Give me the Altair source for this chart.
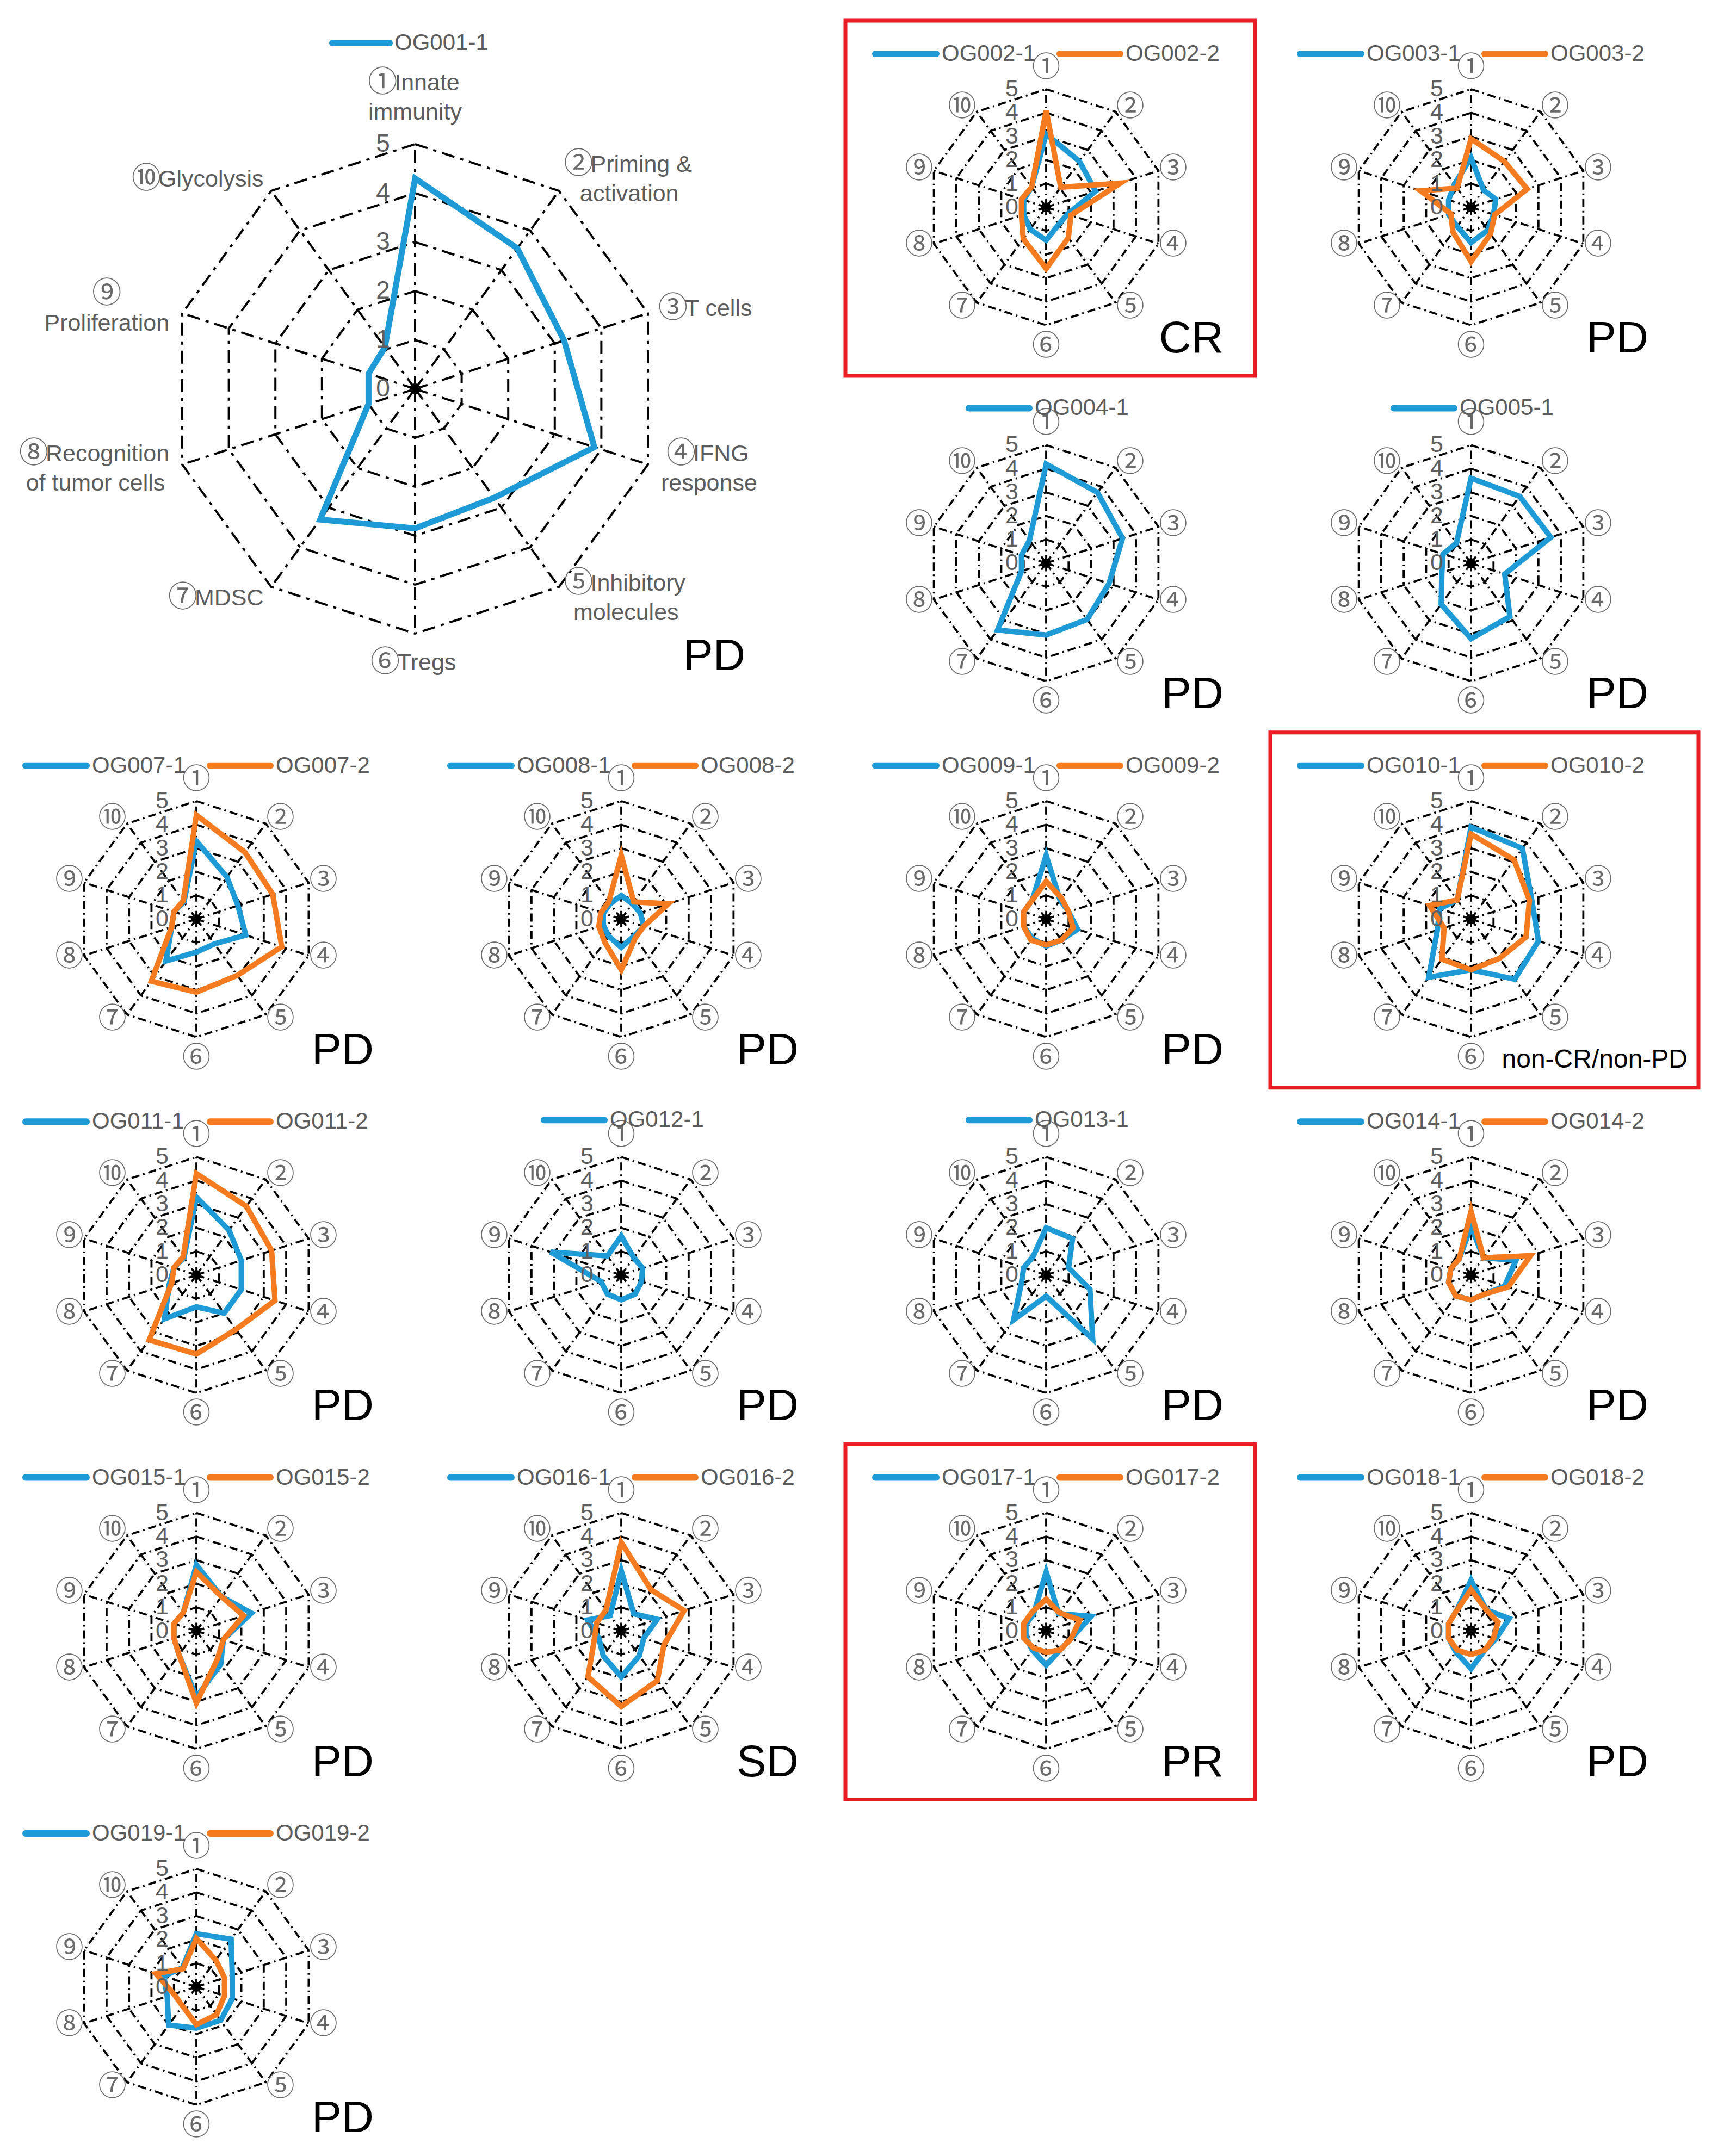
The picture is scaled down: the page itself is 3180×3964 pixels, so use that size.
import math
import altair as alt
import pandas as pd

# ---------------- data ----------------
AXIS_MARKS = ["①", "②", "③", "④", "⑤", "⑥", "⑦", "⑧", "⑨", "⑩"]
BIG_AXIS_LABELS = [
    ["Innate", "immunity"],
    ["Priming &", "activation"],
    ["T cells"],
    ["IFNG", "response"],
    ["Inhibitory", "molecules"],
    ["Tregs"],
    ["MDSC"],
    ["Recognition", "of tumor cells"],
    ["", "Proliferation"],
    ["Glycolysis"],
]
TICK_VALUES = [0, 1, 2, 3, 4, 5]

PATIENTS = ["OG001", "OG002", "OG003", "OG004", "OG005", "OG007", "OG008", "OG009",
            "OG010", "OG011", "OG012", "OG013", "OG014", "OG015", "OG016", "OG017",
            "OG018", "OG019"]
RESPONSE = ["PD", "CR", "PD", "PD", "PD", "PD", "PD", "PD", "non-CR/non-PD", "PD",
            "PD", "PD", "PD", "PD", "SD", "PR", "PD", "PD"]
HIGHLIGHT = ["OG002", "OG010", "OG017"]

OG001_1 = [4.3, 3.55, 3.2, 3.85, 2.75, 2.85, 3.3, 1.0, 1.0, 1.05]
OG002_1 = [3.1, 2.4, 2.2, 0.95, 0.9, 1.4, 1.15, 1.0, 1.0, 1.05]
OG002_2 = [4.1, 1.05, 3.3, 1.1, 1.6, 2.6, 1.65, 1.1, 1.1, 1.05]
OG003_1 = [2.1, 0.9, 1.1, 1.0, 1.2, 1.5, 1.0, 1.0, 1.0, 1.2]
OG003_2 = [2.9, 2.4, 2.5, 1.05, 1.4, 2.3, 1.3, 0.9, 2.25, 1.0]
OG004_1 = [4.2, 3.7, 3.4, 2.8, 2.95, 3.05, 3.5, 1.1, 1.1, 1.2]
OG005_1 = [3.6, 3.5, 3.55, 1.5, 2.8, 3.2, 2.15, 1.3, 1.25, 1.05]
OG007_1 = [3.3, 2.2, 1.85, 2.2, 1.3, 1.4, 2.2, 1.1, 1.0, 0.9]
OG007_2 = [4.4, 3.5, 3.4, 3.8, 2.95, 3.1, 3.25, 1.1, 1.0, 0.95]
OG008_1 = [1.0, 0.8, 0.85, 1.0, 0.9, 1.2, 0.9, 0.8, 0.8, 0.8]
OG008_2 = [2.7, 0.9, 2.1, 1.0, 1.0, 2.15, 1.2, 1.0, 0.9, 0.9]
OG009_1 = [2.7, 1.0, 1.0, 1.4, 1.1, 1.15, 1.0, 1.0, 1.0, 1.0]
OG009_2 = [1.6, 1.1, 1.0, 1.2, 1.1, 1.1, 1.1, 1.0, 1.0, 1.0]
OG010_1 = [3.9, 3.7, 2.7, 3.0, 3.15, 2.15, 3.05, 1.5, 1.4, 1.0]
OG010_2 = [3.6, 3.1, 2.6, 2.45, 2.05, 2.15, 2.1, 1.2, 1.85, 1.0]
OG011_1 = [3.3, 2.35, 2.0, 2.0, 2.0, 1.35, 2.3, 1.2, 1.0, 0.9]
OG011_2 = [4.3, 3.6, 3.35, 3.5, 2.85, 3.35, 3.4, 1.1, 1.0, 0.95]
OG012_1 = [1.65, 0.9, 0.95, 0.9, 1.0, 1.05, 1.0, 0.9, 3.15, 1.0]
OG013_1 = [2.0, 1.9, 1.0, 1.95, 3.35, 0.9, 2.35, 1.1, 1.0, 0.95]
OG014_1 = [2.05, 0.9, 2.0, 1.5, 1.0, 1.05, 1.1, 1.0, 0.9, 0.85]
OG014_2 = [2.7, 0.9, 2.65, 1.65, 1.0, 1.05, 1.1, 1.0, 0.9, 0.85]
OG015_1 = [2.8, 1.8, 2.45, 1.2, 1.75, 2.8, 1.25, 1.0, 1.0, 0.95]
OG015_2 = [2.5, 1.8, 2.1, 1.2, 1.5, 3.05, 1.25, 1.0, 1.0, 0.95]
OG016_1 = [2.55, 0.9, 1.6, 1.0, 1.3, 1.95, 1.3, 1.0, 1.5, 0.8]
OG016_2 = [3.75, 2.15, 2.8, 1.9, 2.6, 3.2, 2.4, 1.2, 1.1, 1.1]
OG017_1 = [2.5, 0.9, 2.0, 1.1, 1.0, 1.45, 1.0, 0.9, 0.9, 0.9]
OG017_2 = [1.35, 0.95, 1.5, 1.1, 1.0, 0.9, 0.9, 1.0, 1.0, 1.0]
OG018_1 = [2.15, 1.1, 1.7, 1.1, 1.0, 1.6, 1.1, 1.0, 1.0, 1.05]
OG018_2 = [1.75, 1.1, 1.2, 1.0, 1.0, 1.0, 1.0, 1.0, 1.0, 1.05]
OG019_1 = [2.25, 2.5, 1.6, 1.6, 1.75, 1.75, 2.0, 1.3, 1.45, 1.0]
OG019_2 = [2.05, 1.4, 1.25, 1.25, 1.45, 1.6, 1.0, 1.0, 1.8, 0.95]

SERIES = {
    "OG001": [("OG001-1", OG001_1)],
    "OG002": [("OG002-1", OG002_1), ("OG002-2", OG002_2)],
    "OG003": [("OG003-1", OG003_1), ("OG003-2", OG003_2)],
    "OG004": [("OG004-1", OG004_1)],
    "OG005": [("OG005-1", OG005_1)],
    "OG007": [("OG007-1", OG007_1), ("OG007-2", OG007_2)],
    "OG008": [("OG008-1", OG008_1), ("OG008-2", OG008_2)],
    "OG009": [("OG009-1", OG009_1), ("OG009-2", OG009_2)],
    "OG010": [("OG010-1", OG010_1), ("OG010-2", OG010_2)],
    "OG011": [("OG011-1", OG011_1), ("OG011-2", OG011_2)],
    "OG012": [("OG012-1", OG012_1)],
    "OG013": [("OG013-1", OG013_1)],
    "OG014": [("OG014-1", OG014_1), ("OG014-2", OG014_2)],
    "OG015": [("OG015-1", OG015_1), ("OG015-2", OG015_2)],
    "OG016": [("OG016-1", OG016_1), ("OG016-2", OG016_2)],
    "OG017": [("OG017-1", OG017_1), ("OG017-2", OG017_2)],
    "OG018": [("OG018-1", OG018_1), ("OG018-2", OG018_2)],
    "OG019": [("OG019-1", OG019_1), ("OG019-2", OG019_2)],
}

# ---------------- layout ----------------
SLOTS = {"OG002": (0, 2), "OG003": (0, 3), "OG004": (1, 2), "OG005": (1, 3),
         "OG007": (2, 0), "OG008": (2, 1), "OG009": (2, 2), "OG010": (2, 3),
         "OG011": (3, 0), "OG012": (3, 1), "OG013": (3, 2), "OG014": (3, 3),
         "OG015": (4, 0), "OG016": (4, 1), "OG017": (4, 2), "OG018": (4, 3),
         "OG019": (5, 0)}

BLUE = "#1e9ad6"
ORANGE = "#f47b20"
RED = "#ec1c24"
GRAY = "#5c5c5c"
W, H = 3164, 3948
LABEL_FONT = "Liberation Sans, sans-serif"
CIRC_FONT = "Noto Sans CJK JP, DejaVu Sans, sans-serif"
RESP_FONT = "Liberation Sans Narrow, Liberation Sans, sans-serif"
BIG_FS = 43
CIRC_W = 44  # advance taken by a circled mark in the big panel labels

CHAR_W = {"i": .222, "l": .222, "j": .222, "f": .278, "t": .278, "r": .333, " ": .278,
          "I": .278, "&": .667, "m": .833, "w": .722, "P": .667, "T": .611, "F": .611,
          "N": .722, "G": .778, "R": .722, "M": .833, "D": .722, "S": .667, "C": .722,
          "y": .5, "c": .5, "k": .5, "v": .5, "s": .5, "z": .5}


def text_width(s, fs):
    return fs * sum(CHAR_W.get(ch, .556) for ch in s)


def polar(cx, cy, R, j, v):
    th = 2 * math.pi * j / 10
    return cx + R * v / 5 * math.sin(th), cy - R * v / 5 * math.cos(th)


rings, spokes, lines, dots, ticks, circs, bigcircs, biglabs = [], [], [], [], [], [], [], []
leg_rules, leg_texts, resp_big, resp_small, boxes = [], [], [], [], []

for p, resp in zip(PATIENTS, RESPONSE):
    big = p == "OG001"
    if big:
        cx, cy, R = 763, 715, 450
    else:
        r_, c_ = SLOTS[p]
        cx, cy, R = 361 + 781 * c_, 381 + 654.4 * r_, 217
    kind = "big" if big else "small"
    for k in range(1, 6):
        for j in range(10):
            x, y = polar(cx, cy, R, j, k)
            rings.append(dict(kind=kind, key=f"{p}-{k}", i=j, x=x, y=y))
    for j in range(10):
        x2, y2 = polar(cx, cy, R, j, 5)
        spokes.append(dict(kind=kind, x=cx, y=cy, x2=x2, y2=y2))
    for si, (name, vals) in enumerate(SERIES[p]):
        for j, v in enumerate(vals):
            x, y = polar(cx, cy, R, j, v)
            lines.append(dict(series=si, key=name, i=j, x=x, y=y, sw=11 if big else 10))
    dots.append(dict(x=cx, y=cy, size=420 if big else 330))
    for t in TICK_VALUES:
        ticks.append(dict(x=cx + (-59 if big else -63), y=cy - R * t / 5, text=str(t),
                          fs=46 if big else 43))
    # axis labels
    for j in range(10):
        th = 2 * math.pi * j / 10
        s, c = math.sin(th), math.cos(th)
        ex, ey = cx + R * s, cy - R * c
        if not big:
            if abs(s) < 1e-6:
                lx, ly = ex, ey - 39 * c
            else:
                lx, ly = ex + 27 * math.copysign(1, s), ey - 11 * c
            circs.append(dict(x=lx, y=ly, text=AXIS_MARKS[j]))
        else:
            parts = BIG_AXIS_LABELS[j]
            n = len(parts)
            lh = 54
            widths = [text_width(t, BIG_FS) + (CIRC_W if i == 0 else 0)
                      for i, t in enumerate(parts)]
            bw = max(widths)
            if abs(s) < 1e-6:
                xc = ex
                if c > 0:
                    ys_ = [ey - 58 - lh * (n - 1 - i) for i in range(n)]
                else:
                    ys_ = [ey + 54 + lh * i for i in range(n)]
            else:
                gap = 14 if abs(s) < 0.8 else 24
                xc = ex + math.copysign(1, s) * (gap + bw / 2)
                yc = ey - 26 * c
                ys_ = [yc + lh * (i - (n - 1) / 2) for i in range(n)]
            for i, (t, yy, wd) in enumerate(zip(parts, ys_, widths)):
                left = xc - wd / 2
                if i == 0:
                    bigcircs.append(dict(x=left + CIRC_W / 2, y=yy, text=AXIS_MARKS[j]))
                    left += CIRC_W
                if t:
                    biglabs.append(dict(x=left, y=yy, text=t))
    # legend
    names = [n for n, _ in SERIES[p]]
    if big:
        ly = cy - 636
        segs = [(cx - 152, cx - 47, cx - 38)]
    elif len(names) == 1:
        ly = cy - 285
        segs = [(cx - 142, cx - 31, cx - 21)]
    else:
        ly = cy - 282
        segs = [(cx - 314, cx - 202, cx - 192), (cx + 25, cx + 136, cx + 146)]
    for si, (name, (a, b, tx)) in enumerate(zip(names, segs)):
        leg_rules.append(dict(series=si, x=a, x2=b, y=ly))
        leg_texts.append(dict(x=tx, y=ly, text=name))
    # response
    if big:
        resp_big.append(dict(x=cx + 607, y=cy + 517, text=resp, fs=82))
    elif resp == "non-CR/non-PD":
        resp_small.append(dict(x=cx + 398, y=cy + 273, text=resp, fs=48))
    else:
        resp_big.append(dict(x=cx + 326, y=cy + 267, text=resp, fs=82))
    if p in HIGHLIGHT:
        right = cx + (418 if resp == "non-CR/non-PD" else 384)
        boxes.append(dict(x=cx - 369, x2=right, y=cy - 343, y2=cy + 310))

xs = alt.Scale(domain=[8, 8 + W], nice=False, zero=False)
ys = alt.Scale(domain=[8, 8 + H], nice=False, zero=False, reverse=True)
X = alt.X("x:Q", scale=xs, axis=None)
Y = alt.Y("y:Q", scale=ys, axis=None)

df_r = pd.DataFrame(rings)
df_s = pd.DataFrame(spokes)
df_l = pd.DataFrame(lines)

DASH_S = [15, 7, 3, 7]
DASH_B = [24, 11, 6, 11]

layers = []
layers.append(alt.Chart(pd.DataFrame(boxes)).mark_rect(
    fill="white", fillOpacity=0, stroke=RED, strokeWidth=7
).encode(x=X, x2="x2:Q", y=Y, y2="y2:Q"))

for kind, dash, sw in [("small", DASH_S, 3.8), ("big", DASH_B, 4)]:
    layers.append(alt.Chart(df_r[df_r.kind == kind]).mark_line(
        color="black", strokeWidth=sw, strokeDash=dash, interpolate="linear-closed"
    ).encode(x=X, y=Y, detail="key:N", order="i:Q"))
    layers.append(alt.Chart(df_s[df_s.kind == kind]).mark_rule(
        color="black", strokeWidth=sw, strokeDash=dash
    ).encode(x=X, y=Y, x2="x2:Q", y2="y2:Q"))

for si, col in [(0, BLUE), (1, ORANGE)]:
    layers.append(alt.Chart(df_l[df_l.series == si]).mark_line(
        color=col, interpolate="linear-closed"
    ).encode(x=X, y=Y, detail="key:N", order="i:Q",
             strokeWidth=alt.StrokeWidth("sw:Q", scale=None)))

layers.append(alt.Chart(pd.DataFrame(dots)).mark_point(
    filled=True, color="black", opacity=1
).encode(x=X, y=Y, size=alt.Size("size:Q", scale=None)))

layers.append(alt.Chart(pd.DataFrame(ticks)).mark_text(
    color="#5e5e5e", font=LABEL_FONT, align="center", baseline="middle"
).encode(x=X, y=Y, text="text:N", size=alt.Size("fs:Q", scale=None)))

layers.append(alt.Chart(pd.DataFrame(circs)).mark_text(
    color="#6a6a6a", font=CIRC_FONT, fontSize=52, align="center", baseline="middle"
).encode(x=X, y=Y, text="text:N"))

layers.append(alt.Chart(pd.DataFrame(bigcircs)).mark_text(
    color="#6a6a6a", font=CIRC_FONT, fontSize=54, align="center", baseline="middle"
).encode(x=X, y=Y, text="text:N"))

layers.append(alt.Chart(pd.DataFrame(biglabs)).mark_text(
    color=GRAY, font=LABEL_FONT, fontSize=BIG_FS, align="left", baseline="middle"
).encode(x=X, y=Y, text="text:N"))

df_lr = pd.DataFrame(leg_rules)
for si, col in [(0, BLUE), (1, ORANGE)]:
    layers.append(alt.Chart(df_lr[df_lr.series == si]).mark_rule(
        color=col, strokeWidth=12, strokeCap="round"
    ).encode(x=X, x2="x2:Q", y=Y))

layers.append(alt.Chart(pd.DataFrame(leg_texts)).mark_text(
    color=GRAY, font=LABEL_FONT, fontSize=42, align="left", baseline="middle"
).encode(x=X, y=Y, text="text:N"))

layers.append(alt.Chart(pd.DataFrame(resp_big)).mark_text(
    color="black", font=RESP_FONT, align="right", baseline="alphabetic"
).encode(x=X, y=Y, text="text:N", size=alt.Size("fs:Q", scale=None)))

layers.append(alt.Chart(pd.DataFrame(resp_small)).mark_text(
    color="black", font=LABEL_FONT, align="right", baseline="alphabetic"
).encode(x=X, y=Y, text="text:N", size=alt.Size("fs:Q", scale=None)))

chart = alt.layer(*layers).properties(
    width=W, height=H, padding=0, background="white",
    autosize=alt.AutoSizeParams(type="none")
).configure_view(stroke=None)

chart.save("out.html", embed_options={"renderer": "svg", "actions": False})
